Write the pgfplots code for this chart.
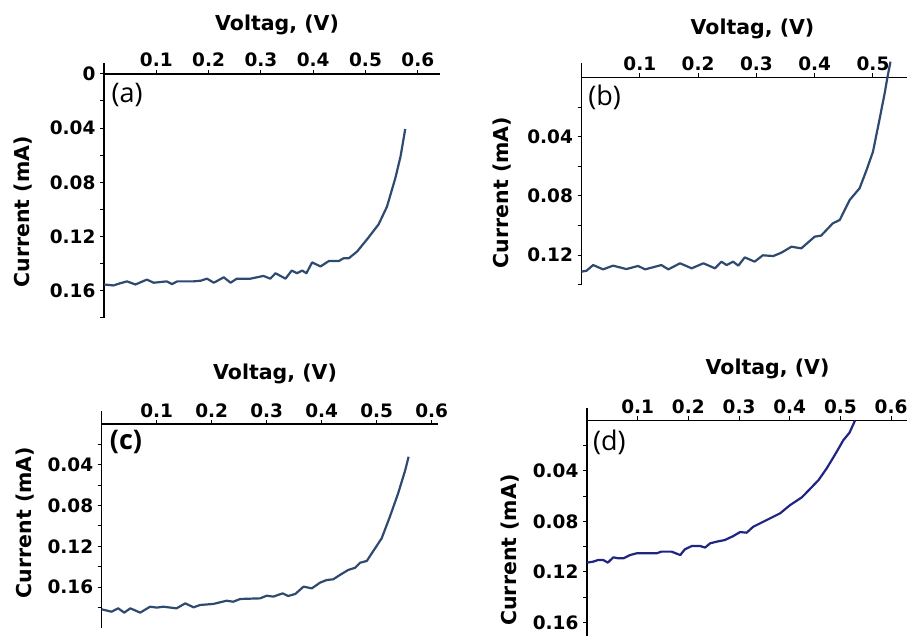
\documentclass[border=0pt]{standalone}
\usepackage{pgfplots}
\pgfplotsset{compat=1.18}
\usepackage{fontspec}
\setmainfont{DejaVu Sans}
\newfontfamily\panelfont{Open Sans}
\definecolor{curveA}{HTML}{2F4A70}
\definecolor{curveD}{HTML}{1F2580}
\tikzset{panel/.style={anchor=west, font=\panelfont\fontsize{27}{30}\selectfont}}

\pgfplotsset{
  iv/.style={
    scale only axis, clip=false, y dir=reverse,
    axis y line=left, axis x line=middle,
    axis line style={-, line width=1.5pt, black},
    every inner x axis line/.append style={-},
    every outer y axis line/.append style={-},
    tick style={black, line width=1pt},
    major tick length=4pt, minor tick length=4pt,
    tick align=outside,
    xmin=0,
    xtick={0.1,0.2,0.3,0.4,0.5,0.6},
    xticklabels={0.1,0.2,0.3,0.4,0.5,0.6},
    xticklabel style={font=\fontsize{18.5}{21}\selectfont\bfseries, anchor=base, yshift=11pt},
    yticklabel style={font=\fontsize{18.5}{21}\selectfont\bfseries, anchor=east, xshift=-1pt},
    label style={font=\fontsize{20.5}{24}\selectfont\bfseries},
    xlabel={Voltag, (V)}, ylabel={Current (mA)},
  }
}

\begin{document}
\begin{tikzpicture}
\useasboundingbox (0pt,0pt) rectangle (907pt,636pt);

% (a)
\begin{axis}[iv, at={(104pt,573pt)}, anchor=north west, width=336pt, height=255pt,
  xmax=0.6425, ymin=-0.008, ymax=0.18,
  ytick={0,0.04,0.08,0.12,0.16}, yticklabels={0,0.04,0.08,0.12,0.16},
  minor ytick={0.02,0.06,0.10,0.14,0.18},
  xlabel style={at={(axis description cs:0.515,1.149)}, anchor=center},
  ylabel style={at={(axis description cs:-0.241,0.416)}, anchor=center}]
\addplot[curveA, line width=2.2pt, line join=round] coordinates {
(0,0.1553) (0.018,0.156) (0.030,0.1545) (0.044,0.153) (0.060,0.1553) (0.082,0.1517)
(0.095,0.154) (0.120,0.153) (0.130,0.155) (0.140,0.153) (0.171,0.153) (0.185,0.1525)
(0.197,0.151) (0.210,0.154) (0.229,0.150) (0.242,0.154) (0.254,0.151) (0.280,0.151)
(0.305,0.149) (0.318,0.151) (0.328,0.147) (0.347,0.151) (0.359,0.145) (0.369,0.147)
(0.379,0.145) (0.387,0.147) (0.398,0.139) (0.414,0.142) (0.430,0.138) (0.449,0.138)
(0.458,0.136) (0.468,0.136) (0.484,0.131) (0.503,0.122) (0.525,0.111) (0.541,0.098)
(0.557,0.077) (0.567,0.061) (0.576,0.0407)};
\node[panel] at (axis description cs:0.012,0.873) {(a)};
\end{axis}

% (b)
\begin{axis}[iv, at={(581.5pt,573.3pt)}, anchor=north west, width=332.3pt, height=221.9pt,
  xmax=0.57, ymin=-0.01, ymax=0.14,
  ytick={0.04,0.08,0.12}, yticklabels={0.04,0.08,0.12},
  minor ytick={0.02,0.06,0.10,0.14},
  xlabel style={at={(axis description cs:0.5146,1.152)}, anchor=center},
  ylabel style={at={(axis description cs:-0.240,0.415)}, anchor=center}]
\addplot[curveA, line width=2.2pt, line join=round] coordinates {
(0,0.1313) (0.0086,0.1306) (0.020,0.1268) (0.037,0.1297) (0.054,0.1272) (0.077,0.1295)
(0.097,0.1274) (0.109,0.1297) (0.137,0.1268) (0.149,0.1297) (0.169,0.1256) (0.189,0.1290)
(0.209,0.1256) (0.229,0.1290) (0.240,0.1245) (0.249,0.1268) (0.260,0.1245) (0.269,0.1272)
(0.280,0.1216) (0.297,0.1245) (0.311,0.1202) (0.329,0.1207) (0.343,0.1184) (0.360,0.1144)
(0.377,0.1155) (0.400,0.1076) (0.411,0.1069) (0.431,0.0986) (0.443,0.0963) (0.460,0.0828)
(0.477,0.0749) (0.489,0.0625) (0.500,0.0501) (0.511,0.0287) (0.520,0.0107) (0.525,-0.0006)
(0.530,-0.0107)};
\node[panel] at (axis description cs:0.010,0.843) {(b)};
\end{axis}

% (c)
\begin{axis}[iv, at={(101.7pt,225.2pt)}, anchor=north west, width=336.6pt, height=217pt,
  xmax=0.612, ymin=-0.013, ymax=0.2,
  ytick={0.04,0.08,0.12,0.16}, yticklabels={0.04,0.08,0.12,0.16},
  minor ytick={0.02,0.06,0.10,0.14,0.18},
  xlabel style={at={(axis description cs:0.515,1.170)}, anchor=center},
  ylabel style={at={(axis description cs:-0.228,0.485)}, anchor=center}]
\addplot[curveA, line width=2.2pt, line join=round] coordinates {
(0,0.1819) (0.018,0.1842) (0.030,0.1809) (0.041,0.1851) (0.052,0.1809) (0.070,0.1851)
(0.088,0.1793) (0.100,0.1802) (0.112,0.1793) (0.136,0.1809) (0.152,0.1760) (0.167,0.1799)
(0.179,0.1776) (0.203,0.1766) (0.227,0.1734) (0.239,0.1744) (0.252,0.1717) (0.288,0.1711)
(0.300,0.1685) (0.312,0.1694) (0.329,0.1662) (0.339,0.1688) (0.352,0.1668) (0.367,0.1596)
(0.382,0.1613) (0.397,0.1557) (0.409,0.1531) (0.421,0.1524) (0.433,0.1482) (0.448,0.1433)
(0.461,0.1410) (0.470,0.1361) (0.482,0.1344) (0.491,0.1269) (0.509,0.1122) (0.524,0.0909)
(0.539,0.0680) (0.552,0.0451) (0.558,0.0321)};
\node[panel, font=\panelfont\bfseries\fontsize{27}{30}\selectfont] at (axis description cs:0.014,0.854) {(c)};
\end{axis}

% (d)
\begin{axis}[iv, at={(587pt,228.3pt)}, anchor=north west, width=329.4pt, height=233.8pt,
  xmax=0.65, ymin=-0.01, ymax=0.175,
  ytick={0.04,0.08,0.12,0.16}, yticklabels={0.04,0.08,0.12,0.16},
  minor ytick={0.02,0.06,0.10,0.14},
  xlabel style={at={(axis description cs:0.548,1.1655)}, anchor=center},
  ylabel style={at={(axis description cs:-0.234,0.391)}, anchor=center}]
\addplot[curveD, line width=2.2pt, line join=round] coordinates {
(0,0.1126) (0.0125,0.1118) (0.022,0.1105) (0.032,0.1105) (0.041,0.1126) (0.052,0.1084)
(0.062,0.1092) (0.072,0.1092) (0.085,0.1066) (0.098,0.1052) (0.1375,0.1052) (0.147,0.1039)
(0.167,0.1039) (0.184,0.1066) (0.193,0.1021) (0.207,0.0994) (0.223,0.0994) (0.233,0.1007)
(0.243,0.0973) (0.256,0.0960) (0.272,0.0947) (0.289,0.0915) (0.302,0.0884) (0.315,0.0889)
(0.328,0.0842) (0.348,0.0802) (0.381,0.0736) (0.401,0.0670) (0.424,0.0609) (0.440,0.0543)
(0.457,0.0472) (0.473,0.0380) (0.489,0.0274) (0.506,0.0156) (0.518,0.0098) (0.529,0)};
\node[panel] at (axis description cs:0.008,0.851) {(d)};
\end{axis}
\end{tikzpicture}
\end{document}
